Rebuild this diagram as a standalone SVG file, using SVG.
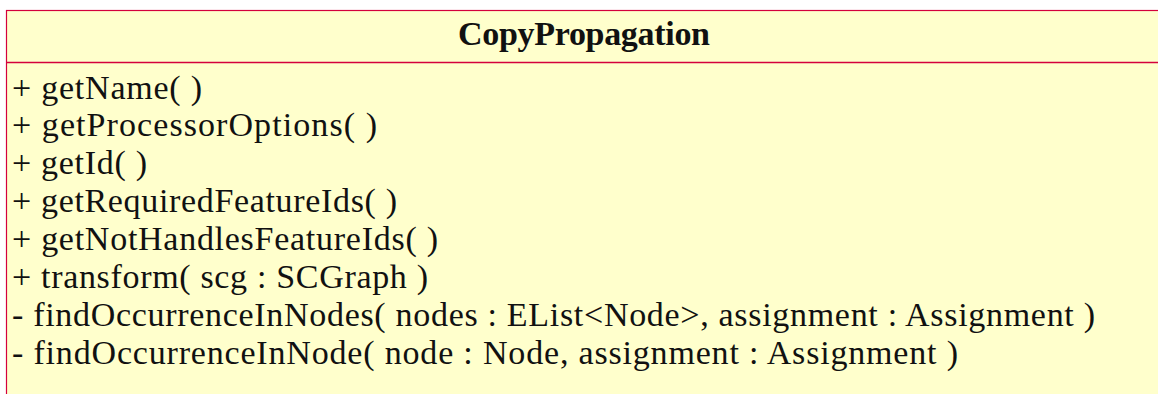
<svg xmlns="http://www.w3.org/2000/svg" width="1158" height="394" viewBox="0 0 1158 394">
  <style>
    .box { fill: #FFFFCC; stroke: #D4003C; stroke-width: 1.2; }
    .div { stroke: #D4003C; stroke-width: 1.4; }
    .title { font-family: "Liberation Serif", "Times New Roman", serif; font-weight: bold; font-size: 34px; fill: #111; }
    .op { font-family: "Liberation Serif", "Times New Roman", serif; font-size: 34px; fill: #111; }
  </style>
  <rect x="0" y="0" width="1158" height="394" fill="#FFFFFF"/>
  <g id="CopyPropagation">
    <rect class="box" x="6.5" y="10.5" width="1160" height="400"/>
    <line class="div" x1="6.5" y1="62.5" x2="1158" y2="62.5"/>
    <text class="title" x="584" y="45" text-anchor="middle" textLength="252">CopyPropagation</text>
    <text class="op" x="12" y="98.5" textLength="190">+ getName( )</text>
    <text class="op" x="12" y="136.4" textLength="365">+ getProcessorOptions( )</text>
    <text class="op" x="12" y="174.3" textLength="135">+ getId( )</text>
    <text class="op" x="12" y="212.2" textLength="385">+ getRequiredFeatureIds( )</text>
    <text class="op" x="12" y="250.1" textLength="426">+ getNotHandlesFeatureIds( )</text>
    <text class="op" x="12" y="288" textLength="416">+ transform( scg : SCGraph )</text>
    <text class="op" x="12" y="325.9" textLength="1083">- findOccurrenceInNodes( nodes : EList&lt;Node&gt;, assignment : Assignment )</text>
    <text class="op" x="12" y="363.8" textLength="946">- findOccurrenceInNode( node : Node, assignment : Assignment )</text>
  </g>
  <g id="connectors"/>
</svg>
